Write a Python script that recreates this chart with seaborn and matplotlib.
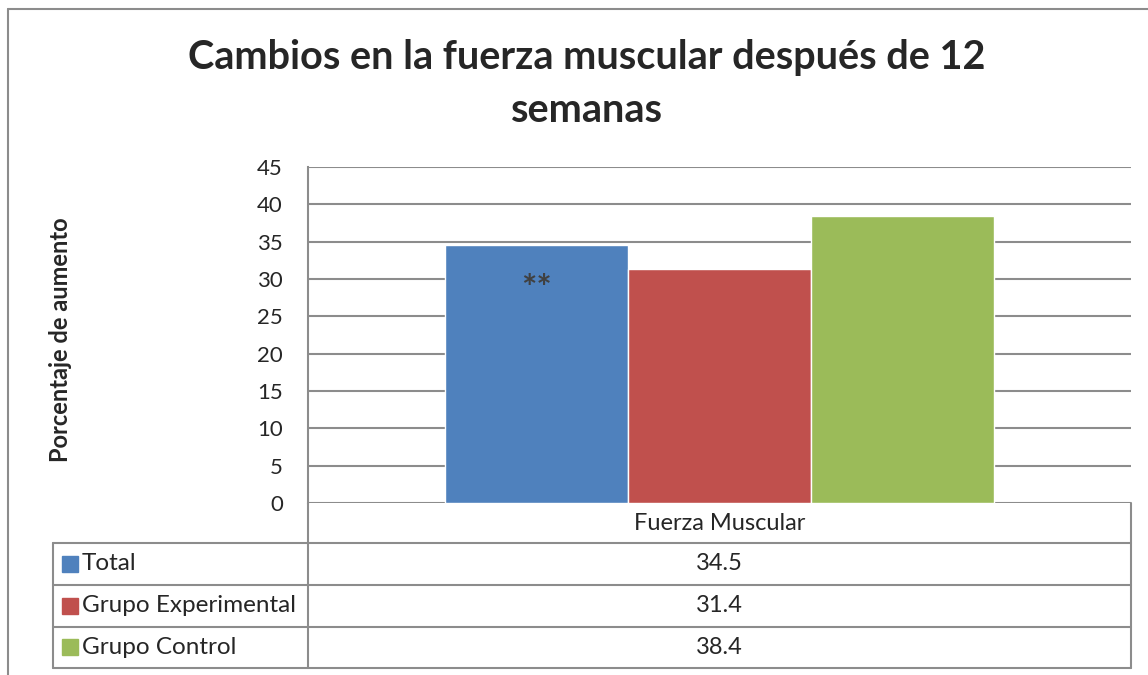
import pandas as pd
import matplotlib.pyplot as plt
import seaborn as sns
from matplotlib.lines import Line2D
from matplotlib.patches import Rectangle

# datos del gráfico
categoria = ["Fuerza Muscular"]
grupos = ["Total", "Grupo Experimental", "Grupo Control"]
valores = [34.5, 31.4, 38.4]
colores = ["#4F81BD", "#C0504D", "#9BBB59"]
marca_texto = "**"
marca_valor = 28.6
y_ticks = list(range(0, 50, 5))

df = pd.DataFrame({"Categoria": categoria * len(grupos), "Grupo": grupos, "Valor": valores})

sns.set_style("white")
plt.rcParams['font.family'] = ['Lato', 'DejaVu Sans']

W, H = 1148, 675
fig = plt.figure(figsize=(W / 100, H / 100), dpi=100)


def fx(px):
    return px / W


def fy(py):
    return 1 - py / H


gris = "#8c8c8c"
texto = "#262626"

# ejes principales (coordenadas en pixeles de la referencia)
ax = fig.add_axes([fx(308), fy(503), fx(1131 - 308), 336 / H])
sns.barplot(data=df, x="Categoria", y="Valor", hue="Grupo", palette=colores,
            width=0.667, saturation=1, ax=ax, legend=False)
ax.set_ylim(0, 45)
ax.set_xlim(-0.5, 0.5)
ax.set_yticks(y_ticks)
ax.set_yticklabels([str(t) for t in y_ticks], fontsize=16, color=texto)
ax.tick_params(axis="y", length=0, pad=18)
ax.set_xticks([])
ax.set_xlabel("")
ax.set_ylabel("")
ax.grid(axis="y", color=gris, linewidth=1.5)
ax.set_axisbelow(True)
for s in ["top", "right", "bottom"]:
    ax.spines[s].set_visible(False)
ax.spines["left"].set_color(gris)
ax.spines["left"].set_linewidth(1.5)

# asteriscos sobre la barra Total
x_total = ax.patches[0].get_x() + ax.patches[0].get_width() / 2
ax.text(x_total, marca_valor, marca_texto, ha="center", va="center",
        fontsize=26, fontweight="bold", color="#404040")

# titulo y etiqueta del eje y
fig.text(fx(587), fy(84), "Cambios en la fuerza muscular después de 12\nsemanas",
         ha="center", va="center", fontsize=28.5, fontweight="bold", color=texto,
         linespacing=1.5)
fig.text(fx(60), fy(340), "Porcentaje de aumento", rotation=90, ha="center",
         va="center", fontsize=17, fontweight="bold", color=texto)

# tabla de datos
def linea(x0, y0, x1, y1, lw=1.5):
    fig.add_artist(Line2D([fx(x0), fx(x1)], [fy(y0), fy(y1)], color=gris, linewidth=lw))


for yy in [543, 585, 627, 668]:
    linea(53, yy, 1131, yy)
linea(308, 503, 308, 668)
linea(1131, 503, 1131, 668)
linea(53, 543, 53, 668)

fig.text(fx(719.5), fy(523), categoria[0], ha="center", va="center", fontsize=17, color=texto)
filas_y = [564, 606, 647]
for g, v, c, yy in zip(grupos, valores, colores, filas_y):
    fig.text(fx(719.5), fy(yy), f"{v:.1f}", ha="center", va="center", fontsize=17, color=texto)
    fig.add_artist(Rectangle((fx(62), fy(yy + 8)), fx(16), 16 / H, color=c))
    fig.text(fx(82), fy(yy), g, ha="left", va="center", fontsize=17.5, color=texto)

# borde del grafico
linea(8, 9, W, 9)
linea(8, 9, 8, H)

fig.savefig("out.png", dpi=100)
